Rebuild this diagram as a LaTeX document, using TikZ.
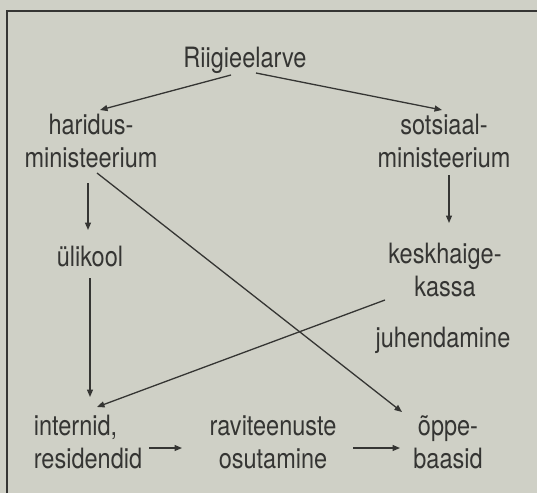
\documentclass[tikz,border=0pt]{standalone}
\usepackage{fontspec}
\newfontfamily\diagfont{TeX Gyre Heros}[FakeStretch=0.84]
\usetikzlibrary{arrows.meta,calc}
\definecolor{paper}{HTML}{CFD0C6}
\definecolor{ink}{HTML}{353533}
\tikzset{
  lbl/.style={inner sep=0pt, text=ink, font=\diagfont\fontsize{28}{33}\selectfont, align=center},
  arr/.style={draw=ink, line width=1.3pt, -{Triangle[length=7.5pt,width=6pt]}},
  frame/.style={draw=ink, line width=1.8pt}
}
\begin{document}
\begin{tikzpicture}[x=1pt,y=-1pt]
\fill[paper] (0,0) rectangle (537,493);
\useasboundingbox (0,0) rectangle (537,493);
\draw[frame] (7,493) -- (7,11) -- (537,11);
\node[lbl] (riigi) at (245,60) {Riigieelarve};
\node[lbl] (harid) at (91,141) {haridus-\\ministeerium};
\node[lbl] (sots) at (444,141) {sotsiaal-\\ministeerium};
\node[lbl] (uli) at (90,256) {ülikool};
\node[lbl] (kesk) at (445,270) {keskhaige-\\kassa};
\node[lbl] (juh) at (443,340) {juhendamine};
\node[lbl, align=left] (intern) at (88,442) {internid,\\residendid};
\node[lbl] (ravi) at (273,442) {raviteenuste\\osutamine};
\node[lbl] (oppe) at (448,442) {õppe-\\baasid};
\draw[arr] ($(riigi)+(-14,15)$) -- ($(harid)+(9,-31)$);
\draw[arr] ($(riigi)+(11,13)$) -- ($(sots)+(-2,-31)$);
\draw[arr] ($(harid)+(-3,42)$) -- ($(uli)+(-2,-26)$);
\draw[arr] ($(sots)+(5,34)$) -- ($(kesk)+(4,-47)$);
\draw[arr] ($(harid)+(6,32)$) -- ($(oppe)+(-46,-30)$);
\draw[arr] ($(uli)+(0,22)$) -- ($(intern)+(2,-45)$);
\draw[arr] ($(kesk)+(-60,30)$) -- ($(intern)+(9,-35)$);
\draw[arr] ($(intern)+(61,6)$) -- ($(ravi)+(-91,6)$);
\draw[arr] ($(ravi)+(80,6)$) -- ($(oppe)+(-48,6)$);
\end{tikzpicture}
\end{document}
